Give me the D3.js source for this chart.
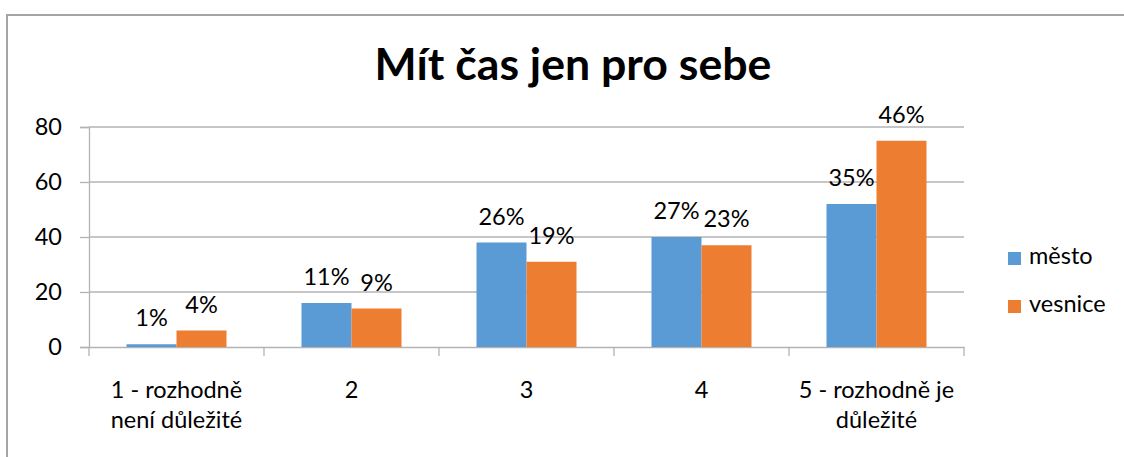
<!DOCTYPE html>
<html>
<head>
<meta charset="utf-8">
<script src="https://cdn.jsdelivr.net/npm/d3@7/dist/d3.min.js"></script>
<style>
  html, body { margin: 0; padding: 0; background: #fff; }
  svg { display: block; }
  text { font-family: Lato, "Open Sans", sans-serif; fill: #000; }
</style>
</head>
<body>
<svg id="chart" width="1124" height="457"></svg>
<script>
const title = "Mít čas jen pro sebe";
const categories = [
  ["1 - rozhodně", "není důležité"],
  ["2"],
  ["3"],
  ["4"],
  ["5 - rozhodně je", "důležité"]
];
const seriesNames = ["město", "vesnice"];
const mestoValues = [1, 16, 38, 40, 52];
const vesniceValues = [6, 14, 31, 37, 75];
const mestoLabels = ["1%", "11%", "26%", "27%", "35%"];
const vesniceLabels = ["4%", "9%", "19%", "23%", "46%"];
const yTicks = [0, 20, 40, 60, 80];
const colors = ["#5b9bd5", "#ed7d31"];

const seriesValues = [mestoValues, vesniceValues];
const seriesLabels = [mestoLabels, vesniceLabels];

const svg = d3.select("#chart");
const bodySize = 23.5;

// frame
svg.append("rect")
  .attr("x", 7).attr("y", 15)
  .attr("width", 1200).attr("height", 600)
  .attr("fill", "none")
  .attr("stroke", "#a5a5a5")
  .attr("stroke-width", 2);

// title
const t = svg.append("text")
  .attr("x", 573).attr("y", 80)
  .attr("text-anchor", "middle")
  .attr("font-weight", "bold")
  .attr("font-size", 40)
  .text(title);
const tw = t.node().getComputedTextLength();
t.attr("font-size", 40 * 397 / tw);

const catKeys = categories.map((c, i) => i);
const x0 = d3.scaleBand().domain(catKeys).range([89, 964]).padding(0);
const x1 = d3.scaleBand().domain(d3.range(seriesNames.length))
  .range([0, x0.bandwidth()]).paddingInner(0).paddingOuter(0.75);
const y = d3.scaleLinear().domain([0, 80]).range([347, 127]);

// gridlines
svg.append("g").selectAll("line")
  .data(yTicks.filter(d => d > 0))
  .join("line")
  .attr("x1", 89).attr("x2", 964)
  .attr("y1", d => y(d)).attr("y2", d => y(d))
  .attr("stroke", "#b3b3b3").attr("stroke-width", 1.3);

// y axis
const yAxis = svg.append("g")
  .attr("transform", "translate(89,0)")
  .call(d3.axisLeft(y).tickValues(yTicks).tickSize(9).tickPadding(18).tickFormat(d3.format("d")));
yAxis.selectAll("path, line").attr("stroke", "#b3b3b3").attr("stroke-width", 1.3);
yAxis.selectAll("text").attr("font-size", bodySize).attr("font-family", "Lato, sans-serif").attr("fill", "#000");

// x axis
const xAxis = svg.append("g")
  .attr("transform", "translate(0,347)")
  .call(d3.axisBottom(x0).tickSize(0).tickFormat(""));
xAxis.select("path").attr("stroke", "#b3b3b3").attr("stroke-width", 1.3);
// category boundary ticks
const bounds = catKeys.map(k => x0(k)).concat([x0(catKeys[catKeys.length - 1]) + x0.bandwidth()]);
svg.append("g").selectAll("line")
  .data(bounds).join("line")
  .attr("x1", d => d).attr("x2", d => d)
  .attr("y1", 347).attr("y2", 356)
  .attr("stroke", "#b3b3b3").attr("stroke-width", 1.3);

// category labels
const catG = svg.append("g");
categories.forEach((lines, i) => {
  const tx = catG.append("text")
    .attr("text-anchor", "middle")
    .attr("font-size", bodySize);
  lines.forEach((ln, j) => {
    tx.append("tspan")
      .attr("x", x0(i) + x0.bandwidth() / 2)
      .attr("y", 398 + j * 30)
      .text(ln);
  });
});

// bars
seriesNames.forEach((name, s) => {
  svg.append("g").selectAll("rect")
    .data(seriesValues[s])
    .join("rect")
    .attr("x", (d, i) => x0(i) + x1(s))
    .attr("width", x1.bandwidth())
    .attr("y", d => y(d))
    .attr("height", d => y(0) - y(d))
    .attr("fill", colors[s]);
  svg.append("g").selectAll("text")
    .data(seriesValues[s])
    .join("text")
    .attr("x", (d, i) => x0(i) + x1(s) + x1.bandwidth() / 2)
    .attr("y", d => y(d) - 18)
    .attr("text-anchor", "middle")
    .attr("font-size", bodySize)
    .text((d, i) => seriesLabels[s][i]);
});

// legend
const leg = svg.append("g");
seriesNames.forEach((name, s) => {
  const yy = 264 + s * 48;
  leg.append("rect")
    .attr("x", 1008).attr("y", yy - 12)
    .attr("width", 13).attr("height", 13)
    .attr("fill", colors[s]);
  leg.append("text")
    .attr("x", 1029).attr("y", yy)
    .attr("font-size", bodySize)
    .text(name);
});
</script>
</body>
</html>
